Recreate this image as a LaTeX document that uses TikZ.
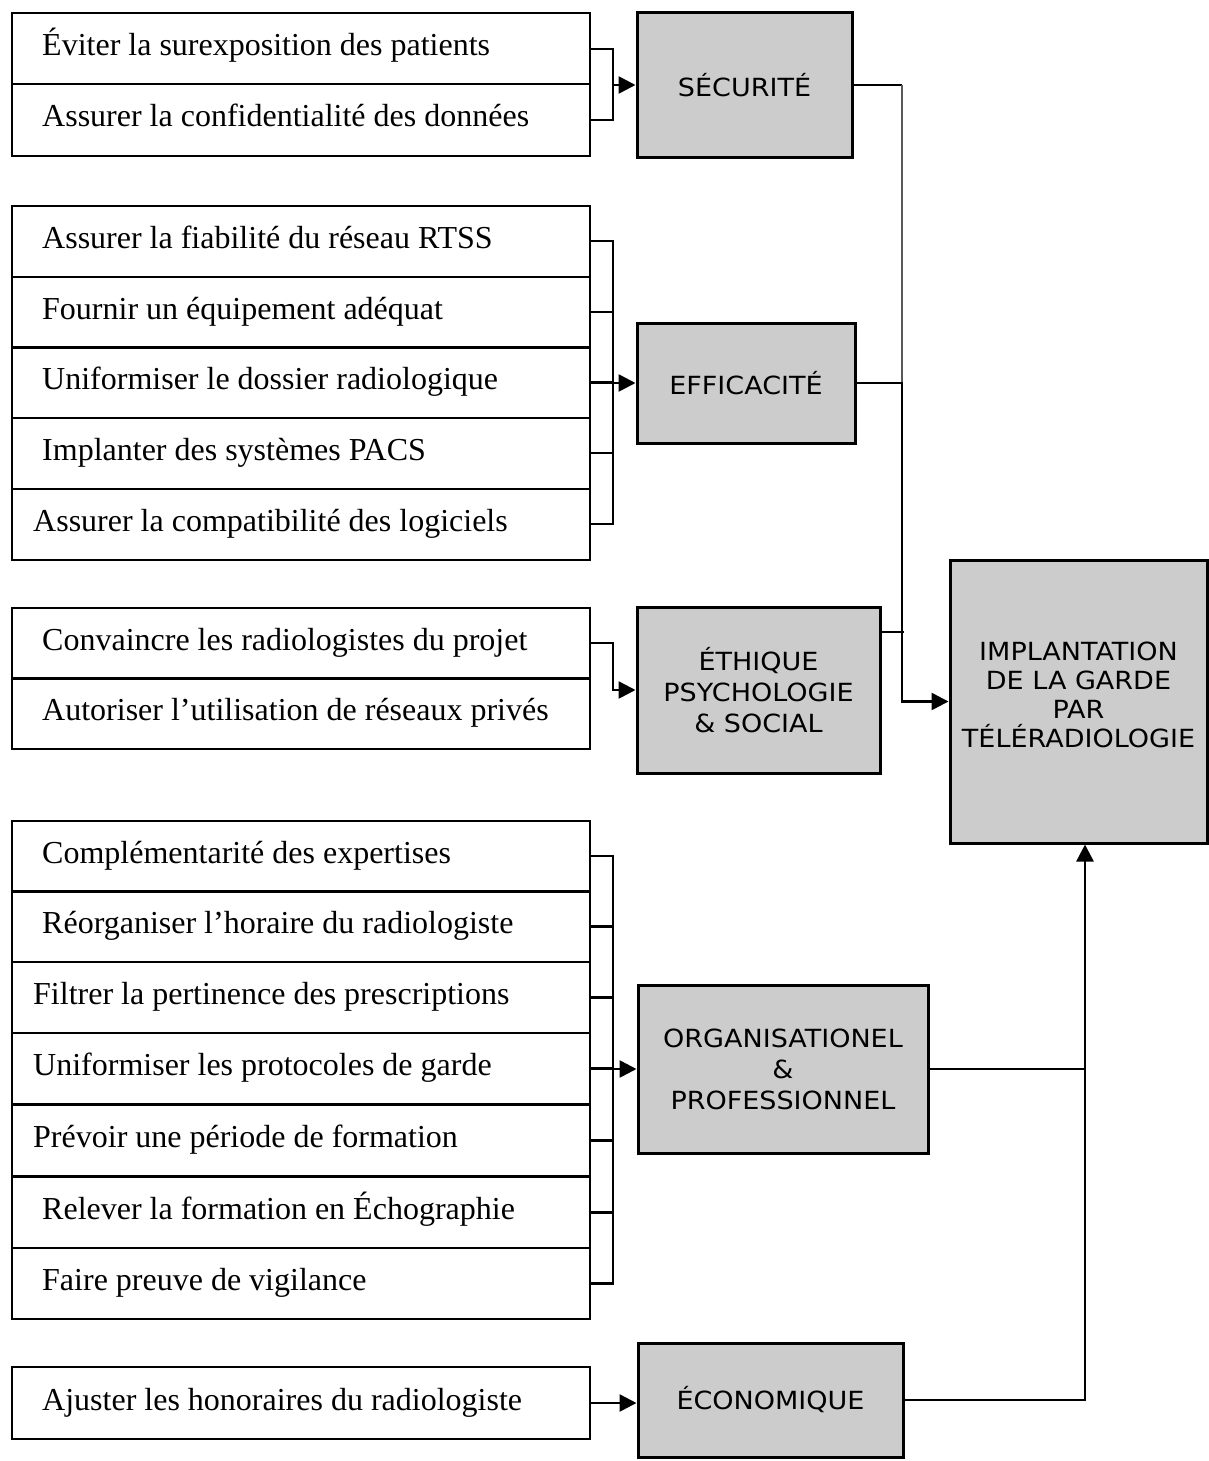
\documentclass[tikz,border=0pt]{standalone}
\usepackage{fontspec}
\setmainfont{Liberation Serif}
\newfontfamily\boxfont{DejaVu Sans}[FakeStretch=1.08]
\usetikzlibrary{arrows.meta}
\begin{document}
\begin{tikzpicture}[x=1pt,y=-1pt,
  rowbox/.style={draw, line width=2pt, minimum width=578pt, minimum height=71pt, inner sep=0pt},
  rowtext/.style={anchor=base west, inner sep=0pt, font=\fontsize{32}{38}\selectfont},
  catbox/.style={draw, line width=3pt, fill=black!20, inner sep=0pt, align=center,
                 font=\boxfont\fontsize{25}{31}\selectfont},
  cattext/.style={inner sep=0pt, align=center, font=\boxfont\fontsize{25}{29}\selectfont},
  conn/.style={line width=2.6pt},
  thinconn/.style={line width=1.3pt, black!65},
  midconn/.style={line width=1.7pt},
  arr/.style={line width=2.6pt, -{Triangle[length=17pt,width=17pt]}}]
\useasboundingbox (0,0) rectangle (1209,1461);

% ---------- left boxes ----------
\node[rowbox] (a1) at (301,49) {};
\node[rowbox] (a2) at (301,120) {};
\node[rowtext] at (42,56) {Éviter la surexposition des patients};
\node[rowtext] at (42,127) {Assurer la confidentialité des données};

\node[rowbox] (b1) at (301,241) {};
\node[rowbox] (b2) at (301,312) {};
\node[rowbox] (b3) at (301,382.5) {};
\node[rowbox] (b4) at (301,453) {};
\node[rowbox] (b5) at (301,524) {};
\node[rowtext] at (42,248) {Assurer la fiabilité du réseau RTSS};
\node[rowtext] at (42,319) {Fournir un équipement adéquat};
\node[rowtext] at (42,389.5) {Uniformiser le dossier radiologique};
\node[rowtext] at (42,460) {Implanter des systèmes PACS};
\node[rowtext] at (33,531) {Assurer la compatibilité des logiciels};

\node[rowbox] (c1) at (301,643) {};
\node[rowbox] (c2) at (301,713) {};
\node[rowtext] at (42,650) {Convaincre les radiologistes du projet};
\node[rowtext] at (42,720) {Autoriser l’utilisation de réseaux privés};

\node[rowbox] (d1) at (301,856) {};
\node[rowbox] (d2) at (301,926.5) {};
\node[rowbox] (d3) at (301,997.5) {};
\node[rowbox] (d4) at (301,1068.5) {};
\node[rowbox] (d5) at (301,1140.5) {};
\node[rowbox] (d6) at (301,1212.5) {};
\node[rowbox] (d7) at (301,1283.5) {};
\node[rowtext] at (42,863) {Complémentarité des expertises};
\node[rowtext] at (42,933.5) {Réorganiser l’horaire du radiologiste};
\node[rowtext] at (33,1004.5) {Filtrer la pertinence des prescriptions};
\node[rowtext] at (33,1075.5) {Uniformiser les protocoles de garde};
\node[rowtext] at (33,1147.5) {Prévoir une période de formation};
\node[rowtext] at (42,1219.5) {Relever la formation en Échographie};
\node[rowtext] at (42,1290.5) {Faire preuve de vigilance};

\node[rowbox, minimum height=72pt] (e1) at (301,1403) {};
\node[rowtext] at (42,1410) {Ajuster les honoraires du radiologiste};

% ---------- category boxes ----------
\node[catbox, minimum width=215pt, minimum height=144pt] (sec) at (744.5,85) {SÉCURITÉ};
\node[catbox, minimum width=218pt, minimum height=120pt] (eff) at (746,383) {EFFICACITÉ};
\node[catbox, minimum width=243pt, minimum height=166pt] (eth) at (758.5,690) {ÉTHIQUE\\PSYCHOLOGIE\\\& SOCIAL};
\node[catbox, minimum width=290pt, minimum height=168pt] (org) at (783,1069) {ORGANISATIONEL\\\&\\PROFESSIONNEL};
\node[catbox, minimum width=265pt, minimum height=114pt] (eco) at (770.5,1400) {ÉCONOMIQUE};
\node[catbox, minimum width=257pt, minimum height=283pt] (imp) at (1078.5,701.5) {};
\node[cattext] (impt) at ([yshift=7pt]imp.center) {IMPLANTATION\\DE LA GARDE\\PAR\\TÉLÉRADIOLOGIE};

% ---------- left brackets ----------
\coordinate (bx) at (613,0);
\draw[conn] (a1.east) -- (a1.east -| bx) -- (a2.east -| bx) -- (a2.east);
\draw[arr] (bx |- sec.west) -- (sec.west);

\draw[conn] (b1.east) -- (b1.east -| bx) -- (b5.east -| bx) -- (b5.east);
\foreach \n in {b2,b3,b4} \draw[conn] (\n.east) -- (\n.east -| bx);
\draw[arr] (bx |- eff.west) -- (eff.west);

\draw[arr] (c1.east) -- (c1.east -| bx) -- (bx |- eth.west) -- (eth.west);

\draw[conn] (d1.east) -- (d1.east -| bx) -- (d7.east -| bx) -- (d7.east);
\foreach \n in {d2,d3,d4,d5,d6} \draw[conn] (\n.east) -- (\n.east -| bx);
\draw[arr] (bx |- org.west) -- (org.west);

\draw[arr] (e1.east) -- (e1.east -| eco.west);

% ---------- right side ----------
\coordinate (rx) at (902,0);
\coordinate (vx) at (1085,0);
\draw[conn] (sec.east) -- (sec.east -| rx);
\draw[thinconn] (sec.east -| rx) -- (eff.east -| rx);
\draw[arr] (eff.east) -- (eff.east -| rx) -- (rx |- imp.west) -- (imp.west);
\draw[midconn] ([yshift=58pt]eth.east) -- ++(22,0);
\draw[midconn] (org.east) -- (org.east -| vx);
\draw[arr] (eco.east) -- (eco.east -| vx) -- (vx |- imp.south);
\end{tikzpicture}
\end{document}
